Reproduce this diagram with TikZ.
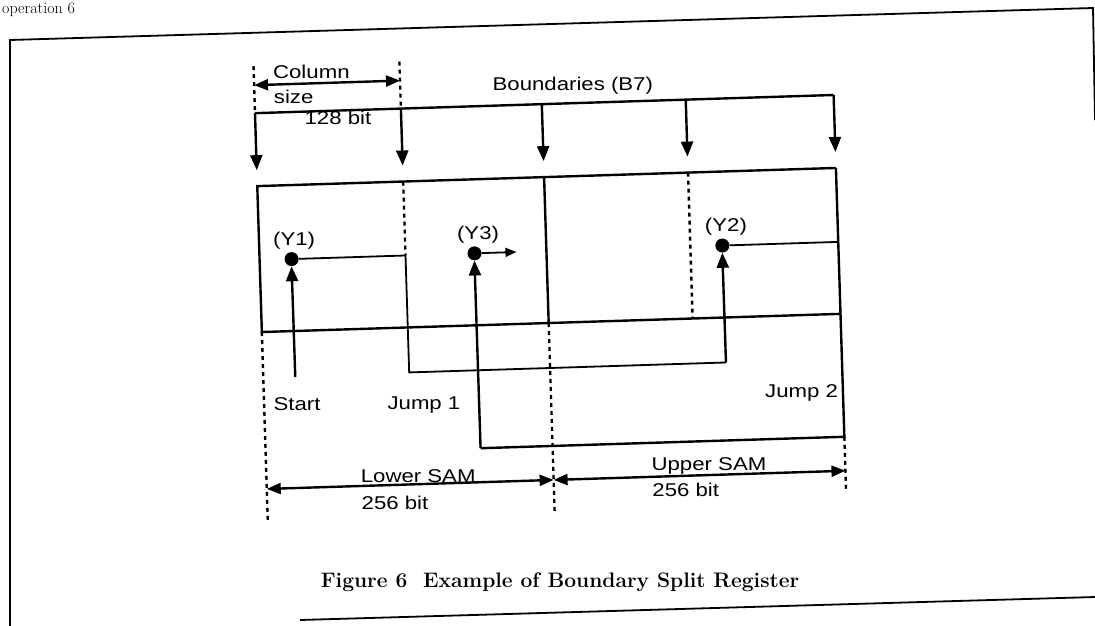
\documentclass[tikz,border=0pt]{standalone}
\usepackage{fontspec}
\newfontfamily\lab[FakeStretch=1.2]{Liberation Sans}
\usetikzlibrary{arrows.meta}
\tikzset{
  lbl/.style={font=\lab\fontsize{18.5}{20}\selectfont, inner sep=0pt},
  solidl/.style={line width=2.4pt},
  thinl/.style={line width=1.8pt},
  dotl/.style={line width=2.4pt, dash pattern=on 4pt off 4pt},
  tip/.style={-{Triangle[length=15pt,width=12pt]}},
  dbl/.style={{Triangle[length=14pt,width=11pt]}-{Triangle[length=14pt,width=11pt]}},
  dot/.style={circle, fill, inner sep=0pt, minimum size=14pt},
}
\begin{document}
\begin{tikzpicture}[x=1pt,y=-1pt]
\useasboundingbox (0,0) rectangle (1095,626);
\clip (0,0) rectangle (1095,626);
% outer frame (scanned page)
\draw[line width=1.8pt] (10,626) -- (10,40) -- (1093,8) -- (1095,120);
\draw[line width=1.8pt] (300,620) -- (1095,597);
\node[anchor=base west, font=\fontsize{16}{18}\selectfont, inner sep=0pt] (op) at (2,14) {operation 6};

\begin{scope}[rotate around={1.8:(550,300)}]
% column size
\coordinate (cLt) at (261,57);
\coordinate (cLb) at (261,104);
\coordinate (cRt) at (407,57);
\coordinate (cRb) at (407,104);
\coordinate (caL) at (261,76);
\coordinate (caR) at (407,76);
\draw[dotl] (cLt) -- (cLb);
\draw[dotl] (cRt) -- (cRb);
\draw[solidl,dbl] (caL) -- (caR);
\node[lbl, anchor=base west] (tcol) at (280,70) {Column};
\node[lbl, anchor=base west] (tsize) at (280,95) {size};
\node[lbl, anchor=base west] (t128) at (310,117) {128 bit};
% boundaries
\node[lbl, anchor=base west] (tbnd) at (499,89) {Boundaries (B7)};
\coordinate (bR) at (840,104);
\coordinate (bM1) at (548,104);
\coordinate (bM2) at (692,104);
\coordinate (b1) at (261,161);
\coordinate (b2) at (407,161);
\coordinate (b3) at (548,161);
\coordinate (b4) at (692,161);
\coordinate (b5) at (840,161);
\draw[solidl] (cLb) -- (bR);
\draw[solidl,tip] (cLb) -- (b1);
\draw[solidl,tip] (cRb) -- (b2);
\draw[solidl,tip] (bM1) -- (b3);
\draw[solidl,tip] (bM2) -- (b4);
\draw[solidl,tip] (bR) -- (b5);
% register
\coordinate (rTL) at (261,177);
\coordinate (rTR) at (840,177);
\coordinate (rBL) at (261,323);
\coordinate (rBR) at (840,323);
\coordinate (dTop) at (548,177);
\coordinate (dBot) at (548,323);
\draw[solidl] (rTR) -- (rTL) -- (rBL) -- (rBR);
\draw[solidl] (dTop) -- (dBot);
\coordinate (d1t) at (407,177);
\coordinate (j1a) at (407,251);
\coordinate (d2t) at (692,177);
\coordinate (d2b) at (692,323);
\draw[dotl] (d1t) -- (j1a);
\draw[dotl] (d2t) -- (d2b);
% pointers
\node[dot] (y1) at (293,251) {};
\node[dot] (y3) at (476,251) {};
\node[dot] (y2) at (724,251) {};
\node[lbl, anchor=base] (ty1) at (296,237) {(Y1)};
\node[lbl, anchor=base] (ty3) at (480,237) {(Y3)};
\node[lbl, anchor=base] (ty2) at (728,237) {(Y2)};
\coordinate (st) at (293,369);
\draw[solidl,tip] (st) -- (y1.south);
\node[lbl, anchor=base west] (tstart) at (270,402) {Start};
% jump 1
\coordinate (j1b) at (407,368);
\coordinate (j1c) at (724,368);
\draw[thinl] (y1) -- (j1a) -- (j1b) -- (j1c);
\draw[solidl,tip] (j1c) -- (y2.south);
\node[lbl, anchor=base west] (tj1) at (384,404) {Jump 1};
% jump 2
\coordinate (j2a) at (840,251);
\coordinate (j2b) at (840,446);
\coordinate (j2c) at (476,446);
\draw[thinl] (y2) -- (j2a);
\draw[solidl] (rTR) -- (j2b) -- (j2c);
\draw[solidl,tip] (j2c) -- (y3.south);
\node[lbl, anchor=base east] (tj2) at (835,406) {Jump 2};
\coordinate (y3r) at (518,251);
\draw[thinl,-{Triangle[length=11pt,width=9pt]}] (y3) -- (y3r);
% SAM
\coordinate (sL) at (261,512);
\coordinate (sM) at (548,512);
\coordinate (sR) at (840,500);
\draw[dotl] (rBL) -- (sL);
\draw[dotl] (dBot) -- (sM);
\draw[dotl] (j2b) -- (sR);
\coordinate (aL) at (261,480);
\coordinate (aM) at (548,480);
\coordinate (aR) at (840,480);
\draw[solidl,dbl] (aL) -- (aM);
\draw[solidl,dbl] (aM) -- (aR);
\node[lbl, anchor=base west] (tlow) at (355,476) {Lower SAM};
\node[lbl, anchor=base west] (tlowb) at (355,503) {256 bit};
\node[lbl, anchor=base west] (tup) at (646,474) {Upper SAM};
\node[lbl, anchor=base west] (tupb) at (646,500) {256 bit};
% caption
\node[font=\bfseries\fontsize{21}{24}\selectfont, anchor=base, inner sep=0pt] (cap) at (551,588) {Figure 6\ \ Example of Boundary Split Register};
\end{scope}
\end{tikzpicture}
\end{document}
